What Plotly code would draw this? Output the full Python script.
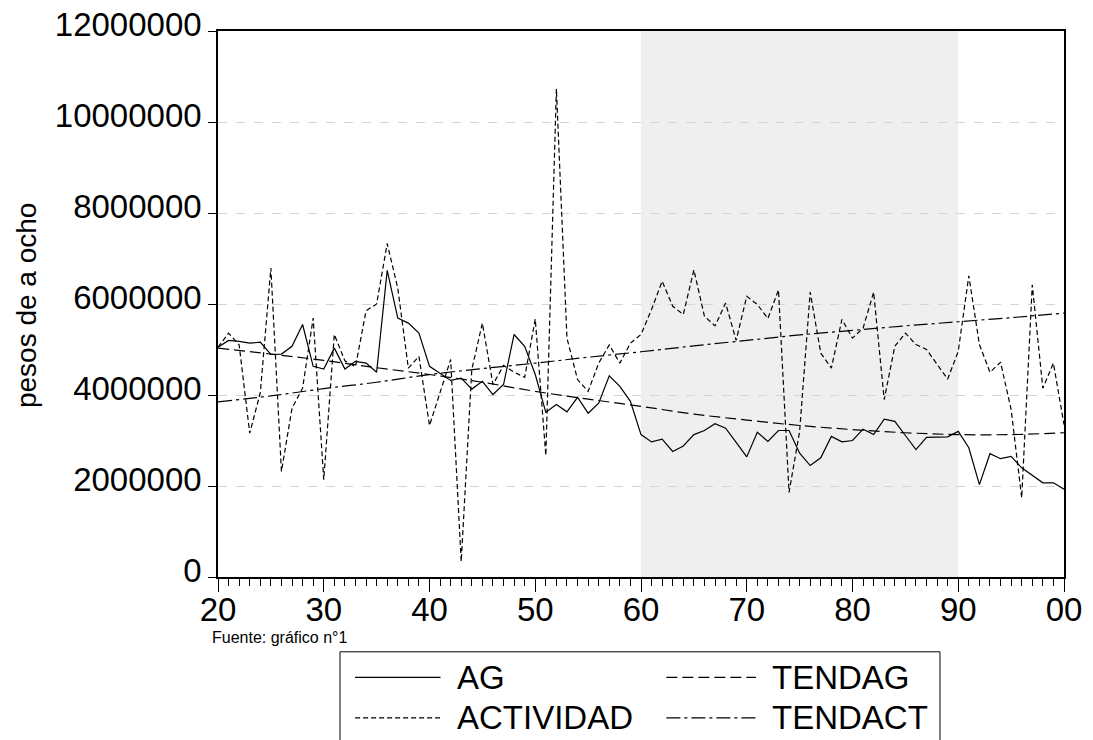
import plotly.graph_objects as go

years = list(range(1920, 2001))

ag = [5.05, 5.20, 5.18, 5.14, 5.16, 4.89, 4.90, 5.07, 5.55, 4.63,
      4.57, 5.03, 4.57, 4.74, 4.70, 4.50, 6.74, 5.69, 5.58, 5.36,
      4.63, 4.48, 4.32, 4.37, 4.13, 4.30, 4.01, 4.23, 5.33, 5.07,
      4.45, 3.62, 3.79, 3.63, 3.95, 3.60, 3.82, 4.42, 4.19, 3.86,
      3.13, 2.97, 3.03, 2.76, 2.88, 3.13, 3.22, 3.37, 3.27, 2.96,
      2.64, 3.18, 2.98, 3.22, 3.22, 2.72, 2.45, 2.62, 3.09, 2.97,
      3.00, 3.25, 3.13, 3.47, 3.42, 3.11, 2.80, 3.07, 3.07, 3.08,
      3.20, 2.84, 2.03, 2.71, 2.60, 2.65, 2.40, 2.23, 2.07, 2.07,
      1.93]

actividad = [5.05, 5.36, 5.10, 3.16, 4.05, 6.79, 2.32, 3.71, 4.15, 5.69,
             2.14, 5.33, 4.75, 4.62, 5.85, 6.00, 7.33, 6.35, 4.59, 4.85,
             3.33, 4.05, 4.78, 0.34, 4.56, 5.58, 4.23, 4.65, 4.50, 4.39,
             5.67, 2.67, 10.73, 5.25, 4.34, 4.08, 4.70, 5.10, 4.70, 5.14,
             5.33, 5.88, 6.50, 5.95, 5.77, 6.75, 5.73, 5.52, 6.02, 5.20,
             6.17, 5.99, 5.68, 6.31, 1.86, 3.20, 6.26, 4.92, 4.59, 5.66,
             5.25, 5.47, 6.26, 3.90, 5.07, 5.36, 5.11, 5.00, 4.67, 4.35,
             4.96, 6.62, 5.11, 4.50, 4.72, 3.68, 1.74, 6.42, 4.15, 4.70,
             3.35]

trend_years = [1920, 1925, 1930, 1935, 1940, 1945, 1950, 1955, 1960,
               1965, 1970, 1975, 1980, 1985, 1990, 1995, 2000]
tendag = [5.03, 4.90, 4.76, 4.60, 4.45, 4.28, 4.08, 3.91, 3.75,
          3.58, 3.45, 3.33, 3.24, 3.17, 3.13, 3.13, 3.17]
tendact = [3.85, 3.98, 4.14, 4.28, 4.45, 4.58, 4.70, 4.83, 4.95,
           5.08, 5.20, 5.32, 5.42, 5.52, 5.61, 5.70, 5.80]

scale = 1_000_000
x_tickvals = [1920, 1930, 1940, 1950, 1960, 1970, 1980, 1990, 2000]
x_ticktext = ["20", "30", "40", "50", "60", "70", "80", "90", "00"]
y_tickvals = [0, 2000000, 4000000, 6000000, 8000000, 10000000, 12000000]
shade_start, shade_end = 1960, 1990

FONT = "Liberation Sans, Arial, sans-serif"
DASH_ACT = "5px,3px"
DASH_TAG = "11px,5px"
DASH_TACT = "14px,4px,3px,4px"

fig = go.Figure()
fig.add_trace(go.Scatter(x=years, y=[v * scale for v in ag], name="AG",
                         mode="lines", line=dict(color="black", width=1.2)))
fig.add_trace(go.Scatter(x=years, y=[v * scale for v in actividad], name="ACTIVIDAD",
                         mode="lines", line=dict(color="black", width=1.2, dash=DASH_ACT)))
fig.add_trace(go.Scatter(x=trend_years, y=[v * scale for v in tendag], name="TENDAG",
                         mode="lines", line=dict(color="black", width=1.2, dash=DASH_TAG,
                                                 shape="spline")))
fig.add_trace(go.Scatter(x=trend_years, y=[v * scale for v in tendact], name="TENDACT",
                         mode="lines", line=dict(color="black", width=1.2, dash=DASH_TACT,
                                                 shape="spline")))

fig.add_shape(type="rect", xref="x", yref="paper", x0=shade_start, x1=shade_end, y0=0, y1=1,
              fillcolor="#efefef", line=dict(width=0), layer="below")

# legend (manual, boxed)
L, R, T, B = 0.1442, 0.8534, -0.137, -0.33
fig.add_shape(type="rect", xref="paper", yref="paper", x0=L, x1=R, y0=B, y1=T,
              line=dict(color="black", width=1), fillcolor="white")
rows = [-0.184, -0.258]
entries = [
    ("AG", None, 0, 0),
    ("TENDAG", DASH_TAG, 0, 1),
    ("ACTIVIDAD", DASH_ACT, 1, 0),
    ("TENDACT", DASH_TACT, 1, 1),
]
col_line = [(0.162, 0.263), (0.530, 0.636)]
col_text = [0.280, 0.652]
for name, dash, r, c in entries:
    y = rows[r]
    ld = dict(color="black", width=1.2)
    if dash:
        ld["dash"] = dash
    fig.add_shape(type="line", xref="paper", yref="paper", x0=col_line[c][0], x1=col_line[c][1],
                  y0=y, y1=y, line=ld)
    fig.add_annotation(xref="paper", yref="paper", x=col_text[c], y=y, text=name,
                       showarrow=False, xanchor="left", yanchor="middle",
                       font=dict(family=FONT, size=33, color="black"))

fig.add_annotation(xref="paper", yref="paper", x=-0.0095, y=-0.110, text="Fuente: gráfico n°1",
                   showarrow=False, xanchor="left", yanchor="middle",
                   font=dict(family=FONT, size=16, color="black"))
fig.add_annotation(xref="paper", yref="paper", x=-0.227, y=0.498, text="pesos de a ocho",
                   showarrow=False, textangle=-90, xanchor="center", yanchor="middle",
                   font=dict(family=FONT, size=28, color="black"))

fig.update_layout(
    width=1093, height=740,
    margin=dict(l=210, r=37, t=23, b=171, autoexpand=False),
    paper_bgcolor="white", plot_bgcolor="white",
    showlegend=False,
    font=dict(family=FONT, color="black"),
)
fig.update_xaxes(range=[1920, 2000], tickvals=x_tickvals, ticktext=x_ticktext,
                 ticks="outside", ticklen=13, tickwidth=1.2, tickcolor="black",
                 minor=dict(dtick=1, tick0=1920, ticks="outside", ticklen=7, tickcolor="black", tickwidth=1),
                 showline=True, mirror=True, linecolor="black", linewidth=1.5,
                 showgrid=False, zeroline=False, ticklabelstandoff=-10, automargin=False,
                 tickfont=dict(family=FONT, size=33, color="black"))
fig.update_yaxes(range=[0, 12000000], tickvals=y_tickvals, tickformat="d",
                 ticks="outside", ticklen=8, tickwidth=1.2, tickcolor="black",
                 showline=True, mirror=True, linecolor="black", linewidth=1.5,
                 showgrid=True, gridcolor="#d4d4d4", griddash="dash", gridwidth=1,
                 zeroline=False, ticklabelshift=-7, ticklabeloverflow="allow", automargin=False,
                 tickfont=dict(family=FONT, size=33, color="black"))

fig.write_html("out.html")
